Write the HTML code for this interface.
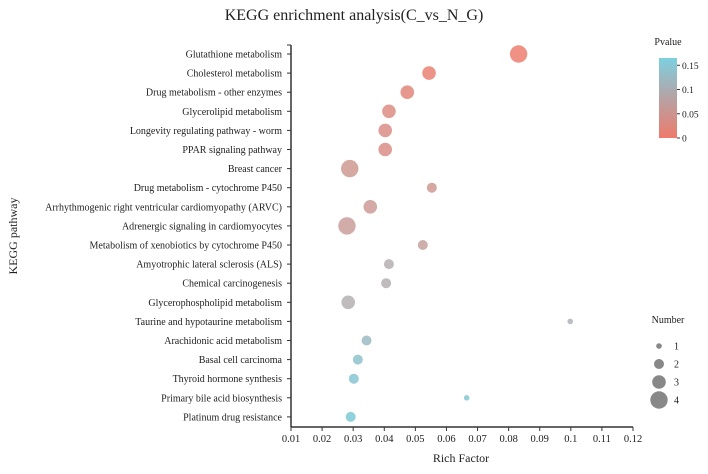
<!DOCTYPE html>
<html><head><meta charset="utf-8"><style>
body{margin:0;background:#fff;}
svg text{font-family:"Liberation Serif",serif;fill:#222;}
</style></head><body>
<svg id="c" width="708" height="469">
<defs><linearGradient id="g" x1="0" y1="1" x2="0" y2="0">
<stop offset="0" stop-color="#ee7b6c"/><stop offset="0.55" stop-color="#b0a7aa"/><stop offset="1" stop-color="#7dd0e0"/></linearGradient></defs>
<text x="354" y="20" font-size="16" text-anchor="middle">KEGG enrichment analysis(C_vs_N_G)</text>
<text x="461" y="462" font-size="12" text-anchor="middle">Rich Factor</text>
<text transform="translate(17,236) rotate(-90)" font-size="12" text-anchor="middle">KEGG pathway</text>
<g id="plot"></g>
<text x="668" y="45" font-size="10" text-anchor="middle">Pvalue</text>
<rect x="659" y="58" width="18" height="80" fill="url(#g)"/>
<g id="cb"></g>
<text x="668" y="323" font-size="10" text-anchor="middle">Number</text>
<g id="sl"></g>
</svg>
<script>
const categories=["Glutathione metabolism","Cholesterol metabolism","Drug metabolism - other enzymes","Glycerolipid metabolism","Longevity regulating pathway - worm","PPAR signaling pathway","Breast cancer","Drug metabolism - cytochrome P450","Arrhythmogenic right ventricular cardiomyopathy (ARVC)","Adrenergic signaling in cardiomyocytes","Metabolism of xenobiotics by cytochrome P450","Amyotrophic lateral sclerosis (ALS)","Chemical carcinogenesis","Glycerophospholipid metabolism","Taurine and hypotaurine metabolism","Arachidonic acid metabolism","Basal cell carcinoma","Thyroid hormone synthesis","Primary bile acid biosynthesis","Platinum drug resistance"];
const richFactor=[0.0832,0.0544,0.0474,0.0415,0.0403,0.0403,0.0289,0.0553,0.0355,0.028,0.0524,0.0415,0.0406,0.0284,0.0998,0.0343,0.0315,0.0302,0.0665,0.0292];
const counts=[4,3,3,3,3,3,4,2,3,4,2,2,2,3,1,2,2,2,1,2];
const pvalues=[0.005,0.01,0.02,0.03,0.035,0.035,0.05,0.05,0.055,0.06,0.065,0.09,0.09,0.09,0.1,0.12,0.135,0.145,0.15,0.155];
const xTicks=["0.01","0.02","0.03","0.04","0.05","0.06","0.07","0.08","0.09","0.1","0.11","0.12"];
const pTicks=["0","0.05","0.1","0.15"];
const sizeLegend=[1,2,3,4];
const NS="http://www.w3.org/2000/svg";
const X0=291,X1=633,Y0=54,DY=19.1;
const xs=v=>X0+(v-0.01)/0.11*(X1-X0);
const ys=i=>Y0+i*DY;
const rs=n=>[0,2.8,5,6.8,8.7][n];
function col(p){const t=Math.min(p/0.165,1);const a=[240,130,115],m=[185,180,182],b=[125,208,224];
let c;if(t<0.55){const k=t/0.55;c=a.map((v,i)=>v+(m[i]-v)*k);}else{const k=(t-0.55)/0.45;c=m.map((v,i)=>v+(b[i]-v)*k);}
return `rgb(${c.map(Math.round).join(',')})`;}
function mk(tag,at,par){const e=document.createElementNS(NS,tag);for(const k in at)e.setAttribute(k,at[k]);par.appendChild(e);return e;}
const g=document.getElementById('plot');
let ax=mk('line',{x1:X0,y1:45,x2:X0,y2:427,stroke:'#333','stroke-width':1.5},g);


let bx=mk('line',{x1:X0,y1:427,x2:X1,y2:427,stroke:'#333','stroke-width':1.5},g);


mk('line',{x1:X0-4,y1:45,x2:X0,y2:45,stroke:'#333'},g);
categories.forEach((c,i)=>{
 mk('line',{x1:X0-4,y1:ys(i),x2:X0,y2:ys(i),stroke:'#333'},g);
 const t=mk('text',{x:X0-9,y:ys(i)+3.5,'font-size':10,'text-anchor':'end'},g);t.textContent=c;
 
 
 const ci=mk('circle',{cx:xs(richFactor[i]),cy:ys(i),r:rs(counts[i]),fill:col(pvalues[i]),'fill-opacity':0.9},g);
 
 
});
xTicks.forEach(v=>{const x=xs(+v);
 mk('line',{x1:x,y1:427,x2:x,y2:431,stroke:'#333'},g);
 const t=mk('text',{x:x,y:442,'font-size':10.5,'text-anchor':'middle'},g);t.textContent=v;
 
 });
const cb=document.getElementById('cb');
pTicks.forEach(v=>{const y=138-(+v)/0.165*80;
 mk('line',{x1:677,y1:y,x2:680,y2:y,stroke:'#333'},cb);
 const t=mk('text',{x:682,y:y+3.5,'font-size':9.5},cb);t.textContent=v;
 
 });
const sl=document.getElementById('sl');
sizeLegend.forEach((n,i)=>{const y=346+i*18;
 const c=mk('circle',{cx:659,cy:y,r:rs(n),fill:'#888'},sl);
 
 
 const t=mk('text',{x:674,y:y+3.5,'font-size':10},sl);t.textContent=n;
 
 });
</script>
</body></html>
